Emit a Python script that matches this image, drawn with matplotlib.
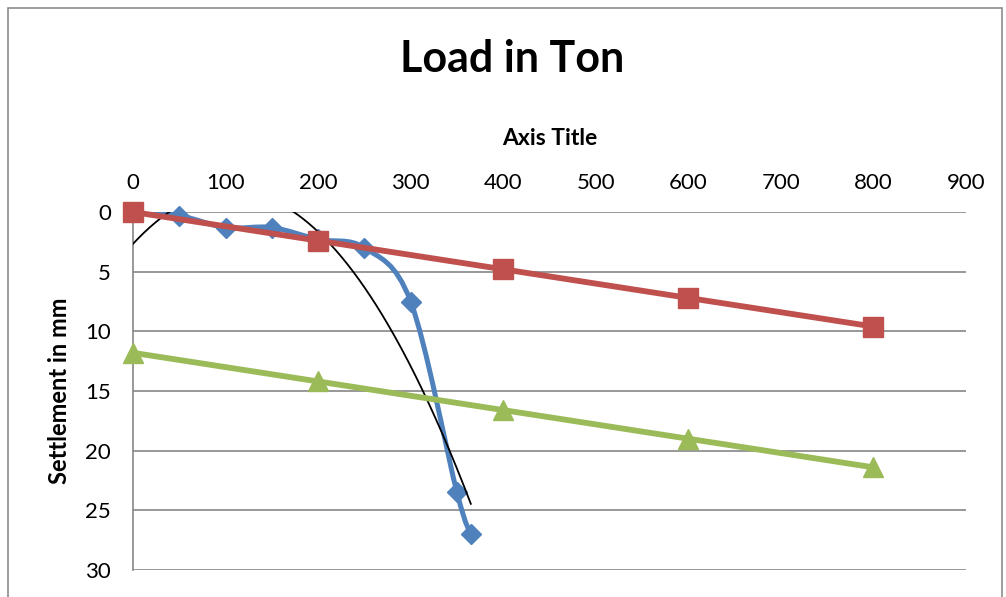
import numpy as np
import matplotlib
matplotlib.use("Agg")
import matplotlib.pyplot as plt
from matplotlib.path import Path
from matplotlib.patches import PathPatch, Rectangle

# Data
blue_x = [0, 50, 100, 150, 200, 250, 300, 350, 365]
blue_y = [0, 0.3, 1.3, 1.3, 2.3, 3.0, 7.5, 23.5, 27.0]
red_x = [0, 200, 400, 600, 800]
red_y = [0, 2.4, 4.8, 7.2, 9.6]
green_x = [0, 200, 400, 600, 800]
green_y = [11.8, 14.2, 16.6, 19.0, 21.4]
x_ticks = [0, 100, 200, 300, 400, 500, 600, 700, 800, 900]
y_ticks = [0, 5, 10, 15, 20, 25, 30]

BLUE = "#4F81BD"
RED = "#C0504D"
GREEN = "#9BBB59"
GRID = "#868686"
FONT = "Lato"

fig = plt.figure(figsize=(10.06, 5.97), dpi=100)
fig.patches.append(Rectangle((8/1006, -0.01), (1002-8)/1006, 1 - 8/597 + 0.01,
                             transform=fig.transFigure, fill=False,
                             edgecolor="#8C8C8C", linewidth=1.2))
ax = fig.add_axes([133/1006, 27/597, 833/1006, 358/597])
ax.set_xlim(0, 900)
ax.set_ylim(30, 0)
ax.xaxis.tick_top()
ax.xaxis.set_label_position("top")
ax.set_xticks(x_ticks)
ax.set_yticks(y_ticks)
ax.tick_params(length=0, labelsize=16)
ax.tick_params(axis="x", pad=14)
ax.tick_params(axis="y", pad=16)
for lab in ax.get_xticklabels() + ax.get_yticklabels():
    lab.set_fontfamily(FONT)
for s in ["top", "right", "bottom"]:
    ax.spines[s].set_visible(False)
ax.spines["left"].set_color(GRID)
ax.spines["left"].set_linewidth(1.2)
ax.yaxis.grid(True, color=GRID, linewidth=1.2)
ax.set_axisbelow(True)

# Smoothed blue line (Excel-like Catmull-Rom Bezier)
P = np.column_stack([blue_x, blue_y]).astype(float)
verts = [P[0]]
codes = [Path.MOVETO]
n = len(P)
for i in range(n - 1):
    p0 = P[i - 1] if i > 0 else P[i]
    p1 = P[i]
    p2 = P[i + 1]
    p3 = P[i + 2] if i + 2 < n else P[i + 1]
    c1 = p1 + (p2 - p0) / 6.0
    c2 = p2 - (p3 - p1) / 6.0
    verts += [c1, c2, p2]
    codes += [Path.CURVE4] * 3
ax.add_patch(PathPatch(Path(verts, codes), facecolor="none", edgecolor=BLUE,
                       linewidth=3.6, zorder=3, capstyle="round", joinstyle="round"))
ax.plot(blue_x[1:], blue_y[1:], linestyle="none", marker="D", markersize=10,
        color=BLUE, zorder=4, clip_on=False)

# Polynomial trendline of blue series
coef = np.polyfit(blue_x, blue_y, 2)
tx = np.linspace(0, max(blue_x), 300)
ax.plot(tx, np.polyval(coef, tx), color="black", linewidth=1.3, zorder=5)

ax.plot(red_x, red_y, color=RED, linewidth=4.2, marker="s", markersize=14,
        zorder=6, clip_on=False)
ax.plot(green_x, green_y, color=GREEN, linewidth=4.2, marker="^", markersize=14,
        zorder=6, clip_on=False)

ax.set_xlabel("Axis Title", fontsize=16.5, fontweight="bold", fontfamily=FONT, labelpad=20)
ax.set_ylabel("Settlement in mm", fontsize=17, fontweight="bold", fontfamily=FONT, labelpad=10)
fig.text(512/1006, 1 - 59/597, "Load in Ton", ha="center", va="center",
         fontsize=31, fontweight="bold", fontfamily=FONT)

fig.savefig("out.png", dpi=100)
